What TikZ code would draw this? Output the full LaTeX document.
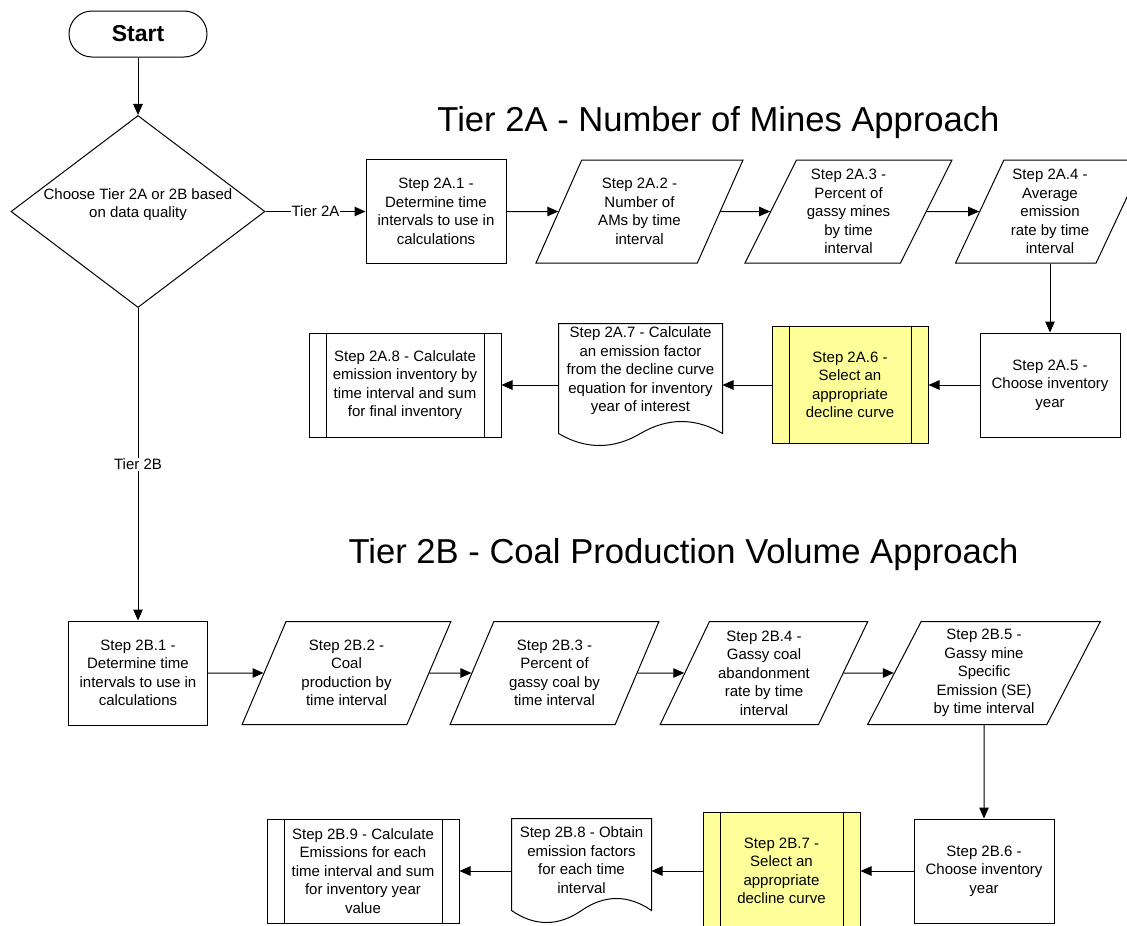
\documentclass[tikz,border=0pt]{standalone}
\usepackage{fontspec}
\setmainfont{Liberation Sans}
\usepackage{xcolor}
\usepackage{tikz}
\usetikzlibrary{shapes.geometric, arrows.meta, positioning, calc}
\definecolor{declineyellow}{RGB}{255,255,153}

\begin{document}
\begin{tikzpicture}[x=1pt, y=-1pt, line width=1pt,
            font=\fontsize{15}{18.5}\selectfont,
            stepbox/.style={draw, rectangle, minimum width=140pt, minimum height=104pt, align=center, inner sep=2pt},
            databox/.style={draw, trapezium, trapezium left angle=64, trapezium right angle=116, trapezium stretches=true, minimum width=207pt, minimum height=103pt, align=center, inner sep=2pt},
            procbox/.style={draw, rectangle, minimum width=192pt, minimum height=104pt, align=center, inner sep=2pt,
                path picture={\draw ([xshift=17pt]path picture bounding box.north west) -- ([xshift=17pt]path picture bounding box.south west);
                              \draw ([xshift=-17pt]path picture bounding box.north east) -- ([xshift=-17pt]path picture bounding box.south east);}},
            docbox/.style={rectangle, minimum width=163pt, align=center, inner sep=1pt},
            flow/.style={-{Triangle[length=11pt, width=9.5pt]}},
            tier/.style={font=\fontsize{34.6}{40}\selectfont}]

            \clip (0,0) rectangle (1127,926);

            \node[draw, rounded corners=23pt, minimum width=138pt, minimum height=46pt, font=\fontsize{23}{27}\selectfont\bfseries] (start) at (138,34) {Start};
            \node[draw, diamond, aspect=1.32, minimum width=254pt, minimum height=192pt, inner sep=0pt, align=center, text depth=17pt] (choose) at (138,211.5) {Choose Tier 2A or 2B based\\on data quality};

            \node[tier] (titleA) at (718.5,123) {Tier 2A - Number of Mines Approach};
            \node[tier] (titleB) at (683.5,555) {Tier 2B - Coal Production Volume Approach};

            % Tier 2A
            \node[stepbox] (a21) at (436,211.5) {Step 2A.1 -\\Determine time\\intervals to use in\\calculations};
            \node[databox] (a22) at (639.5,211.5) {Step 2A.2 -\\Number of\\AMs by time\\interval};
            \node[databox] (a23) at (848.5,211.5) {Step 2A.3 -\\Percent of\\gassy mines\\by time\\interval};
            \node[databox, minimum width=189pt] (a24) at (1050,211.5) {Step 2A.4 -\\Average\\emission\\rate by time\\interval};
            \node[stepbox] (a25) at (1050,385) {Step 2A.5 -\\Choose inventory\\year};
            \node[procbox, fill=declineyellow, minimum width=156pt, minimum height=117pt] (a26) at (850,385) {Step 2A.6 -\\Select an\\appropriate\\decline curve};
            \node[docbox, minimum height=94pt] (a27) at (640.5,371) {Step 2A.7 - Calculate\\an emission factor\\from the decline curve\\equation for inventory\\year of interest};
            \node[procbox] (a28) at (405,385) {Step 2A.8 - Calculate\\emission inventory by\\time interval and sum\\for final inventory};

            % Tier 2B
            \node[stepbox, minimum width=139pt] (b21) at (138,673) {Step 2B.1 -\\Determine time\\intervals to use in\\calculations};
            \node[databox, minimum width=209pt] (b22) at (346.5,673) {Step 2B.2 -\\Coal\\production by\\time interval};
            \node[databox, minimum width=209pt] (b23) at (554.5,673) {Step 2B.3 -\\Percent of\\gassy coal by\\time interval};
            \node[databox, minimum width=208pt] (b24) at (764,673) {Step 2B.4 -\\Gassy coal\\abandonment\\rate by time\\interval};
            \node[databox, minimum width=233pt] (b25) at (984,673) {Step 2B.5 -\\Gassy mine\\Specific\\Emission (SE)\\by time interval};
            \node[stepbox] (b26) at (984,871) {Step 2B.6 -\\Choose inventory\\year};
            \node[procbox, fill=declineyellow, minimum width=157pt, minimum height=118pt] (b27) at (781.5,871) {Step 2B.7 -\\Select an\\appropriate\\decline curve};
            \node[docbox, minimum width=139pt, minimum height=82pt] (b28) at (581.5,860) {Step 2B.8 - Obtain\\emission factors\\for each time\\interval};
            \node[procbox] (b29) at (363,871) {Step 2B.9 - Calculate\\Emissions for each\\time interval and sum\\for inventory year\\value};

            % document outlines
            \draw ($(a27.south west)+(0,15)$) -- (a27.north west) -- (a27.north east) -- ($(a27.south east)+(0,15)$)
                .. controls +(-27,-16) and +(27,-16) .. ($(a27.south)+(0,15)$)
                .. controls +(-27,16) and +(27,16) .. ($(a27.south west)+(0,15)$) -- cycle;
            \draw ($(b28.south west)+(0,9)$) -- (b28.north west) -- (b28.north east) -- ($(b28.south east)+(0,9)$)
                .. controls +(-23,-16) and +(23,-16) .. ($(b28.south)+(0,9)$)
                .. controls +(-23,16) and +(23,16) .. ($(b28.south west)+(0,9)$) -- cycle;

            \draw[flow] (start) -- (choose);
            \draw[flow] (choose.east) -- node[fill=white, inner sep=1pt] {Tier 2A} (a21.west);
            \draw[flow] (choose.south) -- node[fill=white, inner sep=1pt] {Tier 2B} (b21.north);

            \draw[flow] (a21) -- (a22);
            \draw[flow] (a22) -- (a23);
            \draw[flow] (a23) -- (a24);
            \draw[flow] (a24.south) -- (a25.north);
            \draw[flow] (a25) -- (a26);
            \draw[flow] (a26.west) -- (a26.west -| a27.east);
            \draw[flow] (a27.west |- a28.east) -- (a28.east);

            \draw[flow] (b21) -- (b22);
            \draw[flow] (b22) -- (b23);
            \draw[flow] (b23) -- (b24);
            \draw[flow] (b24) -- (b25);
            \draw[flow] (b25.south) -- (b26.north);
            \draw[flow] (b26) -- (b27);
            \draw[flow] (b27.west) -- (b27.west -| b28.east);
            \draw[flow] (b28.west |- b29.east) -- (b29.east);
        \end{tikzpicture}
\end{document}
